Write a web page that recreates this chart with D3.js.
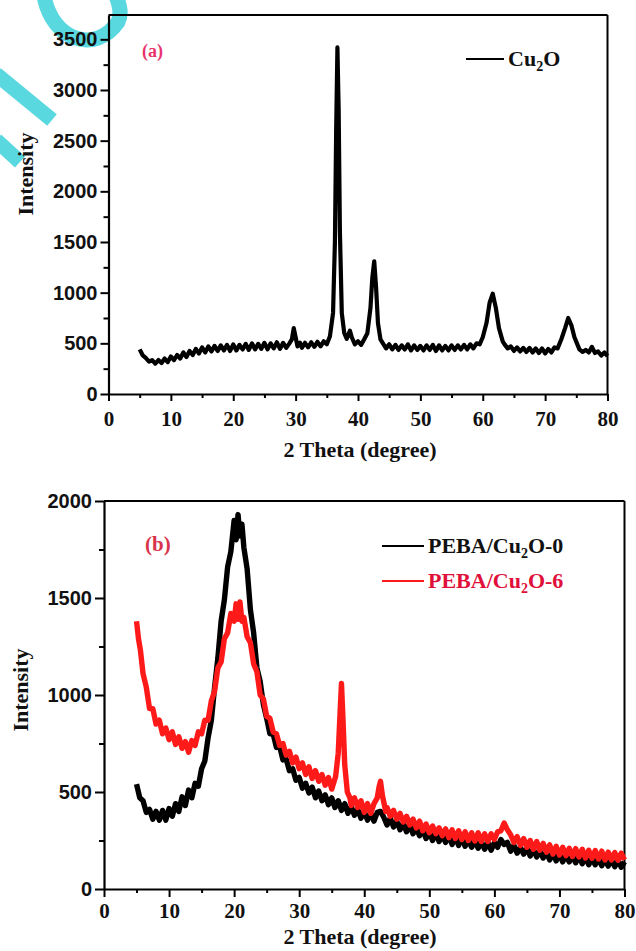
<!DOCTYPE html>
<html><head><meta charset="utf-8">
<script src="https://cdn.jsdelivr.net/npm/d3@7/dist/d3.min.js"></script>
<style>body{margin:0;background:#fff}svg{display:block}</style>
</head><body>
<svg id="c" width="636" height="951"></svg>
<script>
// ---- Panel (a): Cu2O ----
const cuX = [5.0,5.5,6.0,6.5,7.0,7.5,8.0,8.5,9.0,9.5,10.0,10.5,11.0,11.5,12.0,12.5,13.0,13.5,14.0,14.5,15.0,15.5,16.0,16.5,17.0,17.5,18.0,18.5,19.0,19.5,20.0,20.5,21.0,21.5,22.0,22.5,23.0,23.5,24.0,24.5,25.0,25.5,26.0,26.5,27.0,27.5,28.0,28.5,29.0,29.4,29.7,30.0,30.3,30.7,31.0,31.5,32.0,32.5,33.0,33.5,34.0,34.5,35.0,35.5,36.0,36.3,36.5,36.7,36.9,37.1,37.4,37.8,38.2,38.7,39.0,39.5,40.0,40.5,41.0,41.5,42.0,42.3,42.6,42.9,43.2,43.6,44.0,44.5,45.0,45.5,46.0,46.5,47.0,47.5,48.0,48.5,49.0,49.5,50.0,50.5,51.0,51.5,52.0,52.5,53.0,53.5,54.0,54.5,55.0,55.5,56.0,56.5,57.0,57.5,58.0,58.5,59.0,59.5,60.0,60.6,61.1,61.6,62.1,62.6,63.2,63.5,64.0,64.5,65.0,65.5,66.0,66.5,67.0,67.5,68.0,68.5,69.0,69.5,70.0,70.5,71.0,71.5,72.0,72.6,73.2,73.7,74.2,74.7,75.3,75.5,76.0,76.5,77.0,77.5,78.0,78.5,79.0,79.5,80.0];
const cuY = [440,380,355,320,335,300,335,305,350,315,370,335,385,350,410,365,425,385,445,400,460,410,470,420,475,425,480,430,485,425,490,430,485,440,495,435,500,440,495,445,505,440,500,450,510,445,505,455,500,540,650,560,470,505,455,505,460,510,465,515,470,520,490,570,800,1500,2600,3420,2800,1600,800,600,545,625,560,490,520,485,540,600,850,1150,1310,1050,700,540,500,450,490,440,485,435,480,440,490,430,480,435,475,430,480,435,485,425,480,430,475,430,480,435,480,440,485,440,490,450,500,490,560,700,900,990,850,650,520,490,450,470,425,460,420,455,415,455,410,450,405,450,400,445,410,460,450,540,650,750,680,560,470,440,415,435,410,465,405,420,380,410,375];

// ---- Panel (b): PEBA/Cu2O-0 (black) ----
const p0X = [5.0,5.5,6.0,6.5,7.0,7.5,8.0,8.5,9.0,9.5,10.0,10.5,11.0,11.5,12.0,12.5,13.0,13.5,14.0,14.5,15.0,15.5,16.0,16.5,17.0,17.5,18.0,18.5,19.0,19.5,20.0,20.3,20.6,20.9,21.2,21.5,22.0,22.5,23.0,23.5,24.0,24.5,25.0,25.5,26.0,26.5,27.0,27.5,28.0,28.5,29.0,29.5,30.0,30.5,31.0,31.5,32.0,32.5,33.0,33.5,34.0,34.5,35.0,35.5,36.0,36.5,37.0,37.5,38.0,38.5,39.0,39.5,40.0,40.5,41.0,41.5,42.0,42.5,43.0,43.5,44.0,44.5,45.0,45.5,46.0,46.5,47.0,47.5,48.0,48.5,49.0,49.5,50.0,50.5,51.0,51.5,52.0,52.5,53.0,53.5,54.0,54.5,55.0,55.5,56.0,56.5,57.0,57.5,58.0,58.5,59.0,59.5,60.0,60.5,61.0,61.5,62.0,62.5,63.0,63.5,64.0,64.5,65.0,65.5,66.0,66.5,67.0,67.5,68.0,68.5,69.0,69.5,70.0,70.5,71.0,71.5,72.0,72.5,73.0,73.5,74.0,74.5,75.0,75.5,76.0,76.5,77.0,77.5,78.0,78.5,79.0,79.5,80.0];
const p0Y = [540,470,455,395,410,360,400,355,405,355,415,375,440,400,475,430,510,470,545,530,620,660,780,870,1040,1190,1380,1490,1660,1740,1900,1800,1930,1820,1880,1760,1650,1440,1320,1140,1070,950,880,800,800,730,735,665,670,610,620,560,575,520,545,495,525,470,505,455,485,435,470,420,455,405,440,390,425,380,410,365,400,355,390,350,395,400,370,330,365,320,350,305,340,295,330,285,315,275,305,260,295,250,290,245,280,240,275,230,270,225,265,220,255,215,250,210,245,205,240,200,240,215,255,230,240,195,225,185,215,180,210,170,205,165,195,160,190,150,185,145,180,140,175,140,170,135,170,130,165,125,160,125,158,120,155,118,150,115,148,112,140];

// ---- Panel (b): PEBA/Cu2O-6 (red) ----
const p6X = [5.0,5.3,5.6,6.0,6.5,7.0,7.5,8.0,8.5,9.0,9.5,10.0,10.5,11.0,11.5,12.0,12.5,13.0,13.5,14.0,14.5,15.0,15.5,16.0,16.5,17.0,17.5,18.0,18.5,19.0,19.5,20.0,20.3,20.6,20.9,21.2,21.5,22.0,22.5,23.0,23.5,24.0,24.5,25.0,25.5,26.0,26.5,27.0,27.5,28.0,28.5,29.0,29.5,30.0,30.5,31.0,31.5,32.0,32.5,33.0,33.5,34.0,34.5,35.0,35.6,36.0,36.3,36.5,36.7,37.0,37.4,37.8,38.0,38.5,39.0,39.5,40.0,40.5,41.0,41.5,42.0,42.3,42.5,42.8,43.3,43.5,44.0,44.5,45.0,45.5,46.0,46.5,47.0,47.5,48.0,48.5,49.0,49.5,50.0,50.5,51.0,51.5,52.0,52.5,53.0,53.5,54.0,54.5,55.0,55.5,56.0,56.5,57.0,57.5,58.0,58.5,59.0,59.5,60.0,60.5,61.0,61.5,62.0,62.5,63.0,63.5,64.0,64.5,65.0,65.5,66.0,66.5,67.0,67.5,68.0,68.5,69.0,69.5,70.0,70.5,71.0,71.5,72.0,72.5,73.0,73.5,74.0,74.5,75.0,75.5,76.0,76.5,77.0,77.5,78.0,78.5,79.0,79.5,80.0];
const p6Y = [1380,1290,1230,1110,1040,930,930,850,870,800,830,770,810,745,785,725,760,705,765,740,810,800,870,870,970,1020,1140,1170,1290,1320,1420,1380,1470,1390,1480,1380,1400,1300,1270,1160,1120,1000,980,890,880,810,800,740,750,690,710,650,680,620,650,590,630,570,610,555,590,535,575,515,580,700,920,1060,900,640,500,470,430,470,420,455,395,440,390,440,470,530,555,480,400,420,375,405,360,390,345,375,330,360,315,350,300,335,290,325,285,315,275,310,265,305,260,300,255,295,250,290,248,290,245,285,245,285,255,295,300,340,305,280,240,270,225,260,215,250,205,245,200,235,190,228,180,220,175,215,172,210,168,208,165,205,160,200,158,198,155,195,150,190,150,188,148,185,150];

const xTicks = [0,10,20,30,40,50,60,70,80];
const xMinor = [5,15,25,35,45,55,65,75];
const yTicksA = [0,500,1000,1500,2000,2500,3000,3500];
const yMinorA = [250,750,1250,1750,2250,2750,3250];
const yTicksB = [0,500,1000,1500,2000];
const yMinorB = [250,750,1250,1750];
const legendA = ["Cu"];
const legendB = ["PEBA/Cu", "PEBA/Cu"];

const svg = d3.select("#c");
const serif = "'Liberation Serif','Times New Roman',Times,serif";
const sans = "'Liberation Sans',Arial,Helvetica,sans-serif";

// watermark decoration
const wm = svg.append("g").attr("fill","none").attr("stroke","#5ad8e0").attr("stroke-width",15);
wm.append("path").attr("d","M44,-4 C52,40 95,55 118,22 C122,14 120,6 116,-4");
wm.append("path").attr("d","M-4,74 L52,120");
wm.append("path").attr("d","M-4,140 L20,162");

function panel(cfg){
  const x = d3.scaleLinear().domain([0,80]).range([cfg.x0,cfg.x1]);
  const y = d3.scaleLinear().domain([0,cfg.ymax]).range([cfg.y0,cfg.y1]);
  const g = svg.append("g");
  g.append("line").attr("x1",x(0)).attr("x2",x(80)).attr("y1",y(cfg.ymax)).attr("y2",y(cfg.ymax)).attr("stroke","#000").attr("stroke-width",2);
  g.append("line").attr("x1",x(80)).attr("x2",x(80)).attr("y1",y(0)).attr("y2",y(cfg.ymax)).attr("stroke","#000").attr("stroke-width",2);
  cfg.series.forEach(s=>{
    const line = d3.line().x((d,i)=>x(s.xs[i])).y(d=>y(d));
    g.append("path").attr("d",line(s.ys)).attr("fill","none").attr("stroke",s.color)
      .attr("stroke-width",s.w).attr("stroke-linejoin","round");
  });
  const xa = g.append("g").attr("transform",`translate(0,${cfg.y0})`)
    .call(d3.axisBottom(x).tickValues(xTicks).tickSize(cfg.xt).tickPadding(cfg.xpad).tickSizeOuter(0));
  xa.selectAll("text").attr("font-family",serif).attr("font-weight","bold").attr("font-size",21).attr("fill","#111");
  const xm = g.append("g").attr("transform",`translate(0,${cfg.y0})`)
    .call(d3.axisBottom(x).tickValues(xMinor).tickSize(4).tickFormat(""));
  xm.select(".domain").remove();
  const ya = g.append("g").attr("transform",`translate(${cfg.x0},0)`)
    .call(d3.axisLeft(y).tickValues(cfg.yt).tickSize(cfg.ytl).tickPadding(3).tickSizeOuter(0).tickFormat(d3.format("d")));
  ya.selectAll("text").attr("font-family",sans).attr("font-weight","bold").attr("font-size",20).attr("fill","#111");
  const ym = g.append("g").attr("transform",`translate(${cfg.x0},0)`)
    .call(d3.axisLeft(y).tickValues(cfg.ym).tickSize(5).tickFormat(""));
  ym.select(".domain").remove();
  g.selectAll(".domain").attr("stroke-width",2.2);
  g.selectAll(".tick line").attr("stroke-width",2);
  g.append("text").attr("x",360).attr("y",cfg.xtY).attr("text-anchor","middle")
    .attr("font-family",serif).attr("font-weight","bold").attr("font-size",22).attr("fill","#111").text("2 Theta (degree)");
  g.append("text").attr("transform",`translate(${cfg.ytX},${cfg.ytY}) rotate(-90)`).attr("text-anchor","middle")
    .attr("font-family",serif).attr("font-weight","bold").attr("font-size",22).attr("fill","#111").text("Intensity");
  g.append("text").attr("x",cfg.lab[0]).attr("y",cfg.lab[1]).attr("font-family",serif).attr("font-weight","bold")
    .attr("font-size",cfg.lab[3]).attr("fill",cfg.lab[2]).text(cfg.lab[4]);
  cfg.legend.forEach((l,i)=>{
    g.append("line").attr("x1",l.x).attr("x2",l.x+l.len).attr("y1",l.y).attr("y2",l.y).attr("stroke",l.color).attr("stroke-width",2);
    const t = g.append("text").attr("x",l.x+l.len+4).attr("y",l.y+7).attr("font-family",serif).attr("font-weight","bold")
      .attr("font-size",22).attr("fill",l.tcolor);
    t.append("tspan").text(l.pre);
    t.append("tspan").attr("font-size",14).attr("dy",5).text("2");
    t.append("tspan").attr("dy",-5).text(l.post);
  });
  return {x,y};
}

panel({x0:108.5,x1:607.5,y0:394,y1:15,ymax:3740,yt:yTicksA,ym:yMinorA,xt:7,ytl:8,xpad:10,
  xtY:457,ytX:33,ytY:174,lab:[142,57,"#e8336d",18,"(a)"],
  series:[{xs:cuX,ys:cuY,color:"#000",w:4.2}],
  legend:[{x:466,y:59,len:38,color:"#000",tcolor:"#111",pre:legendA[0],post:"O"}]});

panel({x0:104,x1:624.5,y0:889,y1:501,ymax:2000,yt:yTicksB,ym:yMinorB,xt:8,ytl:9,xpad:6,
  xtY:944,ytX:28,ytY:690,lab:[145,551,"#d8344c",21,"(b)"],
  series:[{xs:p0X,ys:p0Y,color:"#000",w:5.4},{xs:p6X,ys:p6Y,color:"#ff1a1a",w:5.4}],
  legend:[{x:382,y:546,len:42,color:"#000",tcolor:"#111",pre:legendB[0],post:"O-0"},
          {x:382,y:581,len:42,color:"#ff1a1a",tcolor:"#e0103a",pre:legendB[1],post:"O-6"}]});
</script>
</body></html>
